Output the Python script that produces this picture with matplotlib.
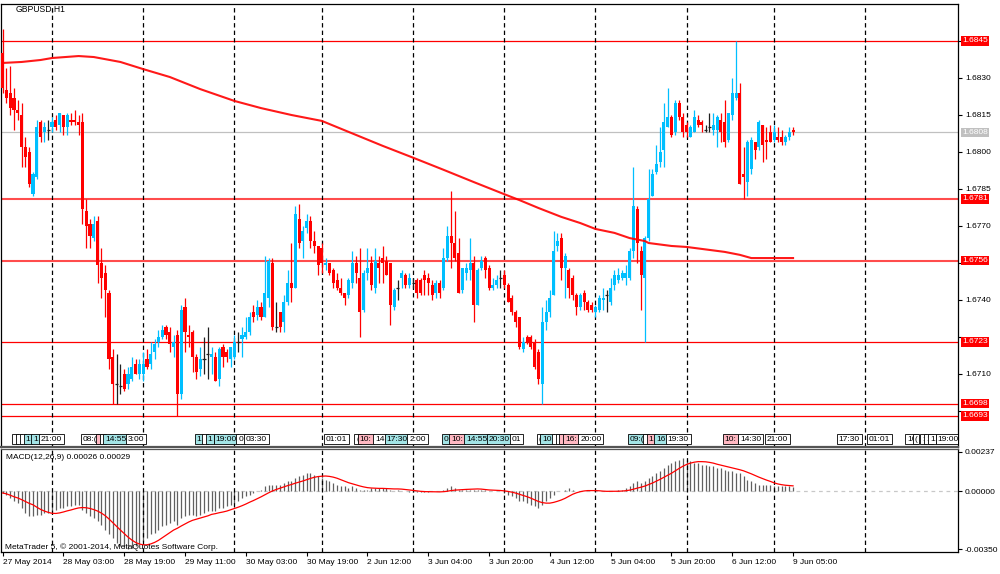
import numpy as np
import pandas as pd
import matplotlib.pyplot as plt

plt.rcParams['font.family'] = ['Liberation Sans', 'DejaVu Sans']

# GBPUSD H1, 27 May 2014 11:00 ... 9 Jun 2014 05:00 (one entry per bar)
opens = [
    1.6840, 1.6825, 1.6824, 1.6822, 1.6817, 1.6815, 1.6802, 1.6800, 1.6783, 1.6790,
    1.6812, 1.6808, 1.6809, 1.6810, 1.6813, 1.6811, 1.6815, 1.6810, 1.6813, 1.6813,
    1.6812, 1.6812, 1.6776, 1.6771, 1.6765, 1.6772, 1.6755, 1.6751, 1.6743, 1.6717,
    1.6706, 1.6705, 1.6710, 1.6706, 1.6708, 1.6714, 1.6710, 1.6710, 1.6716, 1.6714,
    1.6719, 1.6723, 1.6725, 1.6729, 1.6727, 1.6721, 1.6726, 1.6702, 1.6737, 1.6726,
    1.6727, 1.6717, 1.6712, 1.6716, 1.6718, 1.6717, 1.6717, 1.6708, 1.6721, 1.6719,
    1.6716, 1.6717, 1.6723, 1.6724, 1.6725, 1.6727, 1.6735, 1.6734, 1.6737, 1.6733,
    1.6741, 1.6755, 1.6729, 1.6735, 1.6731, 1.6739, 1.6747, 1.6745, 1.6773, 1.6764,
    1.6769, 1.6772, 1.6764, 1.6762, 1.6761, 1.6754, 1.6755, 1.6752, 1.6748, 1.6745,
    1.6743, 1.6742, 1.6747, 1.6755, 1.6749, 1.6736, 1.6751, 1.6755, 1.6745, 1.6755,
    1.6757, 1.6756, 1.6755, 1.6737, 1.6745, 1.6749, 1.6750, 1.6746, 1.6747, 1.6748,
    1.6748, 1.6750, 1.6749, 1.6746, 1.6743, 1.6747, 1.6745, 1.6757, 1.6766, 1.6763,
    1.6759, 1.6744, 1.6751, 1.6752, 1.6755, 1.6738, 1.6753, 1.6757, 1.6753, 1.6745,
    1.6746, 1.6749, 1.6750, 1.6746, 1.6741, 1.6735, 1.6733, 1.6720, 1.6725, 1.6725,
    1.6723, 1.6719, 1.6706, 1.6731, 1.6735, 1.6742, 1.6762, 1.6765, 1.6753, 1.6752,
    1.6749, 1.6742, 1.6737, 1.6743, 1.6739, 1.6738, 1.6735, 1.6736, 1.6740, 1.6742,
    1.6739, 1.6746, 1.6748, 1.6749, 1.6749, 1.6749, 1.6760, 1.6777, 1.6760, 1.6749,
    1.6765, 1.6782, 1.6792, 1.6796, 1.6801, 1.6810, 1.6814, 1.6808, 1.6820, 1.6814,
    1.6811, 1.6806, 1.6808, 1.6813, 1.6812, 1.6809, 1.6810, 1.6809, 1.6809, 1.6813,
    1.6812, 1.6805, 1.6815, 1.6822, 1.6824, 1.6791, 1.6788, 1.6793, 1.6804, 1.6802,
    1.6811, 1.6805, 1.6808, 1.6805, 1.6806, 1.6806, 1.6804, 1.6806, 1.6809,
]
highs = [
    1.6850, 1.6834, 1.6835, 1.6826, 1.6821, 1.6820, 1.6806, 1.6802, 1.6792, 1.6813,
    1.6813, 1.6812, 1.6813, 1.6814, 1.6815, 1.6816, 1.6815, 1.6816, 1.6816, 1.6817,
    1.6815, 1.6816, 1.6781, 1.6773, 1.6774, 1.6774, 1.6761, 1.6754, 1.6744, 1.6720,
    1.6718, 1.6714, 1.6712, 1.6713, 1.6717, 1.6716, 1.6716, 1.6719, 1.6720, 1.6723,
    1.6724, 1.6728, 1.6730, 1.6730, 1.6729, 1.6726, 1.6728, 1.6738, 1.6741, 1.6730,
    1.6728, 1.6718, 1.6721, 1.6725, 1.6729, 1.6721, 1.6719, 1.6721, 1.6722, 1.6720,
    1.6721, 1.6726, 1.6727, 1.6729, 1.6733, 1.6735, 1.6738, 1.6740, 1.6739, 1.6758,
    1.6757, 1.6757, 1.6739, 1.6735, 1.6742, 1.6752, 1.6763, 1.6778, 1.6779, 1.6770,
    1.6775, 1.6774, 1.6768, 1.6762, 1.6763, 1.6757, 1.6755, 1.6753, 1.6751, 1.6749,
    1.6743, 1.6749, 1.6760, 1.6758, 1.6761, 1.6752, 1.6761, 1.6758, 1.6761, 1.6758,
    1.6762, 1.6758, 1.6755, 1.6745, 1.6748, 1.6752, 1.6751, 1.6751, 1.6749, 1.6749,
    1.6749, 1.6752, 1.6751, 1.6748, 1.6748, 1.6748, 1.6761, 1.6770, 1.6784, 1.6776,
    1.6765, 1.6753, 1.6755, 1.6765, 1.6758, 1.6753, 1.6758, 1.6758, 1.6754, 1.6749,
    1.6750, 1.6752, 1.6752, 1.6747, 1.6742, 1.6736, 1.6733, 1.6725, 1.6726, 1.6726,
    1.6724, 1.6720, 1.6737, 1.6740, 1.6744, 1.6768, 1.6767, 1.6767, 1.6759, 1.6753,
    1.6750, 1.6743, 1.6743, 1.6744, 1.6740, 1.6739, 1.6738, 1.6742, 1.6745, 1.6744,
    1.6749, 1.6752, 1.6753, 1.6752, 1.6754, 1.6761, 1.6794, 1.6778, 1.6762, 1.6766,
    1.6793, 1.6793, 1.6803, 1.6810, 1.6820, 1.6826, 1.6815, 1.6821, 1.6821, 1.6816,
    1.6812, 1.6811, 1.6817, 1.6815, 1.6813, 1.6811, 1.6816, 1.6816, 1.6815, 1.6816,
    1.6821, 1.6816, 1.6830, 1.6845, 1.6828, 1.6802, 1.6805, 1.6806, 1.6804, 1.6813,
    1.6811, 1.6810, 1.6811, 1.6811, 1.6810, 1.6809, 1.6807, 1.6810, 1.6810,
]
lows = [
    1.6824, 1.6820, 1.6815, 1.6809, 1.6813, 1.6794, 1.6794, 1.6786, 1.6782, 1.6789,
    1.6804, 1.6804, 1.6805, 1.6808, 1.6809, 1.6808, 1.6807, 1.6807, 1.6811, 1.6811,
    1.6807, 1.6771, 1.6761, 1.6761, 1.6764, 1.6747, 1.6741, 1.6733, 1.6712, 1.6698,
    1.6698, 1.6702, 1.6703, 1.6704, 1.6707, 1.6710, 1.6708, 1.6707, 1.6712, 1.6712,
    1.6716, 1.6721, 1.6724, 1.6724, 1.6719, 1.6717, 1.6693, 1.6700, 1.6719, 1.6721,
    1.6711, 1.6708, 1.6709, 1.6710, 1.6708, 1.6710, 1.6707, 1.6705, 1.6713, 1.6715,
    1.6713, 1.6716, 1.6719, 1.6717, 1.6724, 1.6726, 1.6731, 1.6732, 1.6732, 1.6733,
    1.6737, 1.6728, 1.6727, 1.6727, 1.6727, 1.6738, 1.6739, 1.6745, 1.6761, 1.6757,
    1.6767, 1.6761, 1.6759, 1.6750, 1.6751, 1.6752, 1.6750, 1.6745, 1.6744, 1.6742,
    1.6738, 1.6741, 1.6745, 1.6747, 1.6725, 1.6735, 1.6748, 1.6744, 1.6743, 1.6747,
    1.6747, 1.6750, 1.6730, 1.6736, 1.6740, 1.6745, 1.6745, 1.6745, 1.6745, 1.6741,
    1.6742, 1.6742, 1.6742, 1.6740, 1.6741, 1.6741, 1.6744, 1.6756, 1.6753, 1.6756,
    1.6743, 1.6743, 1.6748, 1.6748, 1.6731, 1.6738, 1.6752, 1.6749, 1.6744, 1.6744,
    1.6745, 1.6745, 1.6745, 1.6739, 1.6734, 1.6729, 1.6720, 1.6719, 1.6722, 1.6720,
    1.6712, 1.6706, 1.6698, 1.6728, 1.6733, 1.6742, 1.6760, 1.6748, 1.6741, 1.6741,
    1.6740, 1.6734, 1.6736, 1.6736, 1.6735, 1.6735, 1.6733, 1.6735, 1.6736, 1.6735,
    1.6738, 1.6744, 1.6747, 1.6748, 1.6746, 1.6748, 1.6757, 1.6755, 1.6736, 1.6723,
    1.6764, 1.6782, 1.6791, 1.6794, 1.6794, 1.6810, 1.6806, 1.6807, 1.6813, 1.6806,
    1.6806, 1.6806, 1.6808, 1.6810, 1.6808, 1.6808, 1.6808, 1.6807, 1.6802, 1.6804,
    1.6802, 1.6804, 1.6813, 1.6821, 1.6787, 1.6781, 1.6782, 1.6791, 1.6797, 1.6801,
    1.6796, 1.6797, 1.6804, 1.6804, 1.6804, 1.6803, 1.6803, 1.6805, 1.6807,
]
closes = [
    1.6826, 1.6822, 1.6818, 1.6817, 1.6816, 1.6802, 1.6798, 1.6787, 1.6791, 1.6810,
    1.6806, 1.6810, 1.6809, 1.6812, 1.6810, 1.6816, 1.6810, 1.6815, 1.6812, 1.6812,
    1.6811, 1.6777, 1.6770, 1.6766, 1.6771, 1.6754, 1.6749, 1.6744, 1.6716, 1.6706,
    1.6706, 1.6705, 1.6704, 1.6710, 1.6713, 1.6710, 1.6714, 1.6714, 1.6713, 1.6718,
    1.6722, 1.6725, 1.6728, 1.6726, 1.6722, 1.6723, 1.6702, 1.6736, 1.6727, 1.6725,
    1.6717, 1.6711, 1.6716, 1.6716, 1.6718, 1.6718, 1.6707, 1.6720, 1.6717, 1.6717,
    1.6721, 1.6723, 1.6723, 1.6726, 1.6727, 1.6733, 1.6733, 1.6737, 1.6733, 1.6743,
    1.6756, 1.6729, 1.6729, 1.6729, 1.6739, 1.6747, 1.6745, 1.6775, 1.6763, 1.6768,
    1.6772, 1.6764, 1.6762, 1.6754, 1.6755, 1.6755, 1.6751, 1.6747, 1.6745, 1.6743,
    1.6741, 1.6748, 1.6755, 1.6751, 1.6735, 1.6751, 1.6753, 1.6746, 1.6756, 1.6753,
    1.6755, 1.6750, 1.6738, 1.6744, 1.6745, 1.6751, 1.6746, 1.6749, 1.6747, 1.6743,
    1.6743, 1.6748, 1.6747, 1.6742, 1.6747, 1.6743, 1.6757, 1.6766, 1.6763, 1.6757,
    1.6743, 1.6753, 1.6753, 1.6755, 1.6738, 1.6752, 1.6756, 1.6752, 1.6745, 1.6746,
    1.6748, 1.6749, 1.6746, 1.6739, 1.6735, 1.6731, 1.6721, 1.6723, 1.6723, 1.6721,
    1.6713, 1.6708, 1.6731, 1.6735, 1.6741, 1.6760, 1.6764, 1.6753, 1.6758, 1.6745,
    1.6742, 1.6737, 1.6742, 1.6739, 1.6736, 1.6736, 1.6737, 1.6741, 1.6741, 1.6742,
    1.6745, 1.6750, 1.6750, 1.6751, 1.6751, 1.6760, 1.6778, 1.6763, 1.6750, 1.6765,
    1.6781, 1.6791, 1.6795, 1.6800, 1.6812, 1.6814, 1.6807, 1.6820, 1.6814, 1.6808,
    1.6808, 1.6810, 1.6814, 1.6811, 1.6811, 1.6809, 1.6810, 1.6811, 1.6814, 1.6808,
    1.6804, 1.6816, 1.6824, 1.6824, 1.6787, 1.6790, 1.6804, 1.6805, 1.6801, 1.6812,
    1.6803, 1.6804, 1.6804, 1.6808, 1.6805, 1.6804, 1.6806, 1.6808, 1.6808,
]

# MACD(12,26,9) main line, in units of 0.001 (histogram)
macd_main = [
    -0.1, -0.2, -0.4, -0.6, -0.7, -1.0, -1.3, -1.5, -1.5, -1.4,
    -1.4, -1.3, -1.3, -1.2, -1.1, -1.0, -1.0, -0.9, -0.9, -0.8,
    -0.8, -1.1, -1.3, -1.5, -1.6, -1.8, -2.0, -2.3, -2.6, -2.8,
    -3.1, -3.3, -3.4, -3.5, -3.4, -3.3, -3.2, -3.0, -2.8, -2.6,
    -2.5, -2.3, -2.1, -2.0, -1.9, -1.8, -2.0, -1.6, -1.5, -1.4,
    -1.4, -1.5, -1.4, -1.3, -1.2, -1.2, -1.2, -1.0, -1.0, -0.9,
    -0.8, -0.7, -0.6, -0.4, -0.3, -0.2, -0.1, 0.0, 0.1, 0.3,
    0.4, 0.4, 0.4, 0.4, 0.5, 0.6, 0.6, 0.8, 0.9, 1.0,
    1.1, 1.1, 1.0, 0.9, 0.8, 0.7, 0.6, 0.5, 0.4, 0.3,
    0.3, 0.2, 0.3, 0.2, 0.1, 0.1, 0.1, 0.2, 0.2, 0.2,
    0.2, 0.2, 0.1, 0.0, 0.1, 0.0, 0.0, -0.05, -0.05, -0.05,
    -0.05, -0.05, -0.05, 0.0, 0.0, 0.0, 0.05, 0.2, 0.3, 0.2,
    0.1, 0.1, 0.1, 0.1, 0.1, 0.1, 0.1, 0.05, 0.0, 0.0,
    0.0, 0.0, -0.1, -0.2, -0.3, -0.4, -0.6, -0.6, -0.7, -0.8,
    -0.9, -1.0, -0.8, -0.6, -0.4, -0.2, 0.0, 0.0, 0.1, 0.2,
    0.1, 0.0, 0.0, 0.0, 0.0, 0.0, 0.0, 0.0, 0.0, 0.0,
    0.0, 0.0, 0.05, 0.1, 0.2, 0.3, 0.5, 0.6, 0.5, 0.6,
    0.8, 0.9, 1.1, 1.2, 1.4, 1.6, 1.7, 1.8, 1.9, 2.0,
    1.9, 1.8, 1.7, 1.7, 1.6, 1.6, 1.5, 1.5, 1.4, 1.4,
    1.3, 1.2, 1.2, 1.1, 1.1, 0.9, 0.7, 0.6, 0.5, 0.4,
    0.4, 0.4, 0.4, 0.3, 0.3, 0.3, 0.3, 0.3, 0.26,
]

# moving average (bar index, price)
ma_idx = [0, 5, 10, 13, 20, 24, 31, 37, 44, 52, 61, 68, 76, 84, 100, 108, 116, 124,
          132, 136, 141, 147, 152, 156, 161, 165, 169, 170, 176, 180, 184, 190, 194,
          197, 203, 208]
ma_val = [1.68361, 1.68365, 1.68373, 1.68381, 1.68389, 1.68385, 1.68365, 1.68336,
          1.68304, 1.68255, 1.68207, 1.68178, 1.68150, 1.68126, 1.68025, 1.67977,
          1.67928, 1.67878, 1.67829, 1.67805, 1.67773, 1.67737, 1.67712, 1.67688,
          1.67672, 1.67651, 1.67639, 1.67631, 1.67619, 1.67615, 1.67607, 1.67595,
          1.67583, 1.67570, 1.67570, 1.67570]

levels = [1.6845, 1.6781, 1.6756, 1.6723, 1.6698, 1.6693]
bid = 1.6808

# first bar of each day (period separators), last one is in the empty future area
day_starts = [13, 37, 61, 84, 108, 132, 156, 180, 203, 227]
date_ticks = list(range(0, 209, 16))
date_labels = ["27 May 2014", "28 May 03:00", "28 May 19:00", "29 May 11:00",
               "30 May 03:00", "30 May 19:00", "2 Jun 12:00", "3 Jun 04:00",
               "3 Jun 20:00", "4 Jun 12:00", "5 Jun 04:00", "5 Jun 20:00",
               "6 Jun 12:00", "9 Jun 05:00"]

# economic calendar marks: (bar, visible text, kind)
events = [
    (3, " ", "n"), (4, " ", "n"), (5, " ", "n"), (6, "1", "c"), (8, "1", "c"),
    (10, "21:00", "n"), (21, "08:(", "n"), (25, " ", "p"), (26, " ", "n"),
    (27, "14:55", "c"), (33, "3:00", "n"), (51, "1", "c"), (53, " ", "n"),
    (54, "1", "c"), (56, "19:00", "c"), (62, "0", "n"), (64, "03:30", "n"),
    (85, "01:01", "n"), (93, "(", "n"), (94, "10:", "p"), (98, "14", "n"),
    (101, "17:30", "c"), (107, "2:00", "n"), (116, "0", "c"), (118, "10:", "p"),
    (122, "14:55", "c"), (128, "20:30", "c"), (134, "01", "n"), (141, "(", "n"),
    (142, "10", "c"), (145, " ", "n"), (146, " ", "n"), (147, " ", "p"),
    (148, "16:", "p"), (152, "20:00", "n"), (165, "09:(", "c"), (169, " ", "n"),
    (170, "1", "p"), (172, "16", "c"), (175, "19:30", "n"), (190, "10:", "p"),
    (194, "14:30", "n"), (201, "21:00", "n"), (220, "17:30", "n"),
    (228, "01:01", "n"), (238, "10", "n"), (240, "(", "n"), (242, ":", "n"),
    (243, "1", "n"), (244, "1", "n"), (246, "19:00", "n"),
]

BULL = '#00bfff'
BEAR = '#ff0000'
DOJI = '#202020'
EVENT_FILL = {"n": "#ffffff", "c": "#a3e4e6", "p": "#ffb8c2"}

o = np.array(opens)
h = np.array(highs)
l = np.array(lows)
c = np.array(closes)
idx = np.arange(len(c))

W, H = 1000, 574
def px_rect(left, top, right, bottom):
    return [left / W, 1 - bottom / H, (right - left) / W, (bottom - top) / H]

fig = plt.figure(figsize=(W / 100, H / 100), dpi=100)
fig.patch.set_facecolor('white')
ax = fig.add_axes(px_rect(1, 4, 958, 447))
axm = fig.add_axes(px_rect(1, 449, 958, 552))

x_lo, x_hi = -0.42, 251.4

# --- price panel ---
for lv in levels:
    thick = lv in (1.6781, 1.6756)
    ax.axhline(lv, color='#ff0000', lw=1.5 if thick else 0.9,
               alpha=0.7 if thick else 1.0, zorder=1)
ax.axhline(bid, color='#c0c0c0', lw=0.9, zorder=1)

col = np.where(c > o, BULL, np.where(c < o, BEAR, DOJI))
ax.vlines(idx, l, h, colors=col, lw=0.9, zorder=3)
ax.bar(idx, c - o, bottom=o, width=0.8, color=col, lw=0, zorder=4)
dj = c == o
ax.hlines(o[dj], idx[dj] - 0.4, idx[dj] + 0.4, colors=DOJI, lw=0.9, zorder=4)

ax.plot(ma_idx, ma_val, color='#ff0000', lw=1.5, alpha=0.9, zorder=5)

xtr = ax.get_xaxis_transform()
for k, (bar, txt, kind) in enumerate(events):
    ax.text(bar, 0.018, txt, transform=xtr, fontsize=6, ha='left', va='center',
            bbox=dict(boxstyle='square,pad=0.22', fc=EVENT_FILL[kind], ec='#000000', lw=0.6),
            zorder=6 + k * 0.01, clip_on=True)

ax.text(0.0157, 0.987, 'GBPUSD,H1', transform=ax.transAxes, fontsize=6.2,
        ha='left', va='center')

ax.set_xlim(x_lo, x_hi)
ax.set_ylim(1.66804, 1.68600)
ax.set_xticks([])
ax.yaxis.tick_right()
yt = [1.6695 + 0.0015 * k for k in range(11)]
ax.set_yticks(yt)
# tick values hidden behind the level boxes are left blank
ax.set_yticklabels(['' if min(abs(v - lv) for lv in levels) < 0.00035 else f'{v:.4f}'
                    for v in yt])
ax.tick_params(axis='y', direction='out', length=3, width=0.8, pad=2, labelsize=6)

ytr = ax.get_yaxis_transform()
for lv in levels:
    ax.text(1.0045, lv, f'{lv:.4f}', transform=ytr, fontsize=6, color='white',
            ha='left', va='center', clip_on=False, zorder=20,
            bbox=dict(boxstyle='square,pad=0.15', fc='#ff0000', ec='none'))
ax.text(1.0045, bid, f'{bid:.4f}', transform=ytr, fontsize=6, color='white',
        ha='left', va='center', clip_on=False, zorder=20,
        bbox=dict(boxstyle='square,pad=0.15', fc='#c0c0c0', ec='none'))

# --- MACD panel ---
macd = np.array(macd_main) * 1e-3
signal = pd.Series(macd).rolling(9, min_periods=1).mean()
axm.axhline(0, color='#c8c8c8', lw=0.9, ls=(0, (3, 3)), zorder=0)
axm.vlines(idx, 0, macd, colors='#606060', lw=0.9, zorder=2)
axm.plot(idx, signal, color='#ff0000', lw=0.9, zorder=3)

axm.text(0.005, 0.922, 'MACD(12,26,9) 0.00026 0.00029', transform=axm.transAxes,
         fontsize=6, ha='left', va='center')
axm.text(0.004, 0.044, 'MetaTrader 5, \u00a9 2001-2014, MetaQuotes Software Corp.',
         transform=axm.transAxes, fontsize=6, ha='left', va='center', zorder=5)

axm.set_xlim(x_lo, x_hi)
axm.set_ylim(-0.003655, 0.00255)
axm.yaxis.tick_right()
axm.set_yticks([-0.0035, 0.0, 0.00237])
axm.set_yticklabels(['-0.00350', '0.00000', '0.00237'])
axm.set_xticks(date_ticks)
axm.set_xticklabels(date_labels, ha='left')
axm.tick_params(axis='both', direction='out', length=3, width=0.8, pad=2, labelsize=6)

for a in (ax, axm):
    for d in day_starts:
        a.axvline(d, color='#000000', lw=0.9, ls=(0, (3.5, 2.5)), zorder=2.5)
    for s in a.spines.values():
        s.set_color('#000000')
        s.set_linewidth(0.9)
ax.spines['bottom'].set_color('#555555')
ax.spines['bottom'].set_linewidth(1.6)
axm.spines['top'].set_color('#555555')

fig.savefig('out.png', dpi=100)
